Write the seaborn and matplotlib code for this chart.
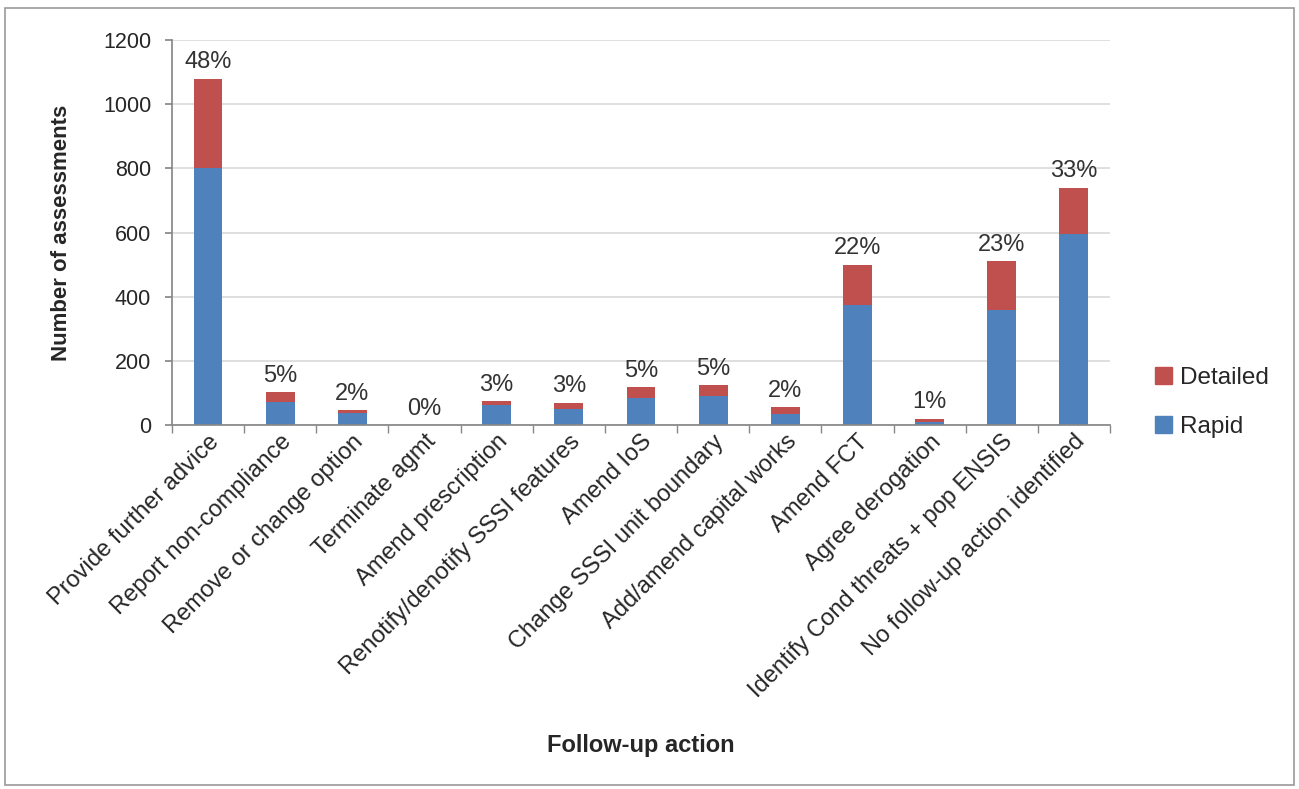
import matplotlib
matplotlib.use("Agg")
import matplotlib.pyplot as plt
import seaborn as sns
import pandas as pd
from matplotlib.patches import Patch, Rectangle

# Dados
acoes = ["Provide further advice", "Report non-compliance", "Remove or change option",
         "Terminate agmt", "Amend prescription", "Renotify/denotify SSSI features",
         "Amend IoS", "Change SSSI unit boundary", "Add/amend capital works",
         "Amend FCT", "Agree derogation", "Identify Cond threats + pop ENSIS",
         "No follow-up action identified"]
rapid = [800, 72, 36, 0, 62, 49, 83, 90, 34, 374, 8, 360, 595]
detailed = [280, 32, 10, 0, 14, 21, 34, 35, 21, 126, 12, 152, 145]
percentuais = ["48%", "5%", "2%", "0%", "3%", "3%", "5%", "5%", "2%", "22%", "1%", "23%", "33%"]

df = pd.DataFrame({"Acao": acoes, "Rapid": rapid, "Detailed": detailed})
df["Total"] = df["Rapid"] + df["Detailed"]

COR_RAPID = "#4F81BD"
COR_DET = "#C0504D"

sns.set_theme(style="white")
plt.rcParams["font.family"] = ["Liberation Sans", "DejaVu Sans"]

fig = plt.figure(figsize=(12.99, 7.89), dpi=100)
ax = fig.add_axes([0.1324, 0.4613, 0.7221, 0.488])

sns.barplot(data=df, x="Acao", y="Total", color=COR_DET, width=0.4, saturation=1,
            linewidth=0, edgecolor="none", ax=ax)
sns.barplot(data=df, x="Acao", y="Rapid", color=COR_RAPID, width=0.4, saturation=1,
            linewidth=0, edgecolor="none", ax=ax)

for i, (tot, pct) in enumerate(zip(df["Total"], percentuais)):
    ax.text(i, tot + 16, pct, ha="center", va="bottom", fontsize=17, color="#333333")

ax.set_ylim(0, 1200)
ax.set_xlim(-0.5, len(acoes) - 0.5)
ax.set_yticks(range(0, 1201, 200))
ax.yaxis.grid(True, color="#d9d9d9", linewidth=1.2)
ax.set_axisbelow(True)
for s in ["top", "right"]:
    ax.spines[s].set_visible(False)
ax.spines["left"].set_color("#888888")
ax.spines["bottom"].set_color("#888888")
ax.tick_params(axis="y", labelsize=15.5, length=5, color="#888888", direction="out", left=True, pad=10)
ax.tick_params(axis="x", length=0, pad=4)
ax.set_xticks([i - 0.5 for i in range(len(acoes) + 1)], minor=True)
ax.tick_params(axis="x", which="minor", length=6, color="#888888", direction="out", bottom=True)
ax.set_xticks(range(len(acoes)))
ax.set_xticklabels(acoes, rotation=45, ha="right", rotation_mode="anchor", fontsize=17)

ax.set_ylabel("Number of assessments", fontsize=16, fontweight="bold", labelpad=22)
ax.set_xlabel("")
fig.text(0.493, 0.055, "Follow-up action", ha="center", va="center", fontsize=17, fontweight="bold")

handles = [Patch(color=COR_DET, label="Detailed"), Patch(color=COR_RAPID, label="Rapid")]
fig.legend(handles=handles, loc="center left", bbox_to_anchor=(0.876, 0.49), frameon=False,
           fontsize=17.5, handlelength=0.7, handleheight=0.7, handletextpad=0.35, labelspacing=1.1,
           borderpad=0.2)

fig.patches.append(Rectangle((0.004, 0.005), 0.992, 0.985, transform=fig.transFigure,
                             fill=False, edgecolor="#999999", linewidth=1.2))

plt.savefig("out.png", dpi=100)
